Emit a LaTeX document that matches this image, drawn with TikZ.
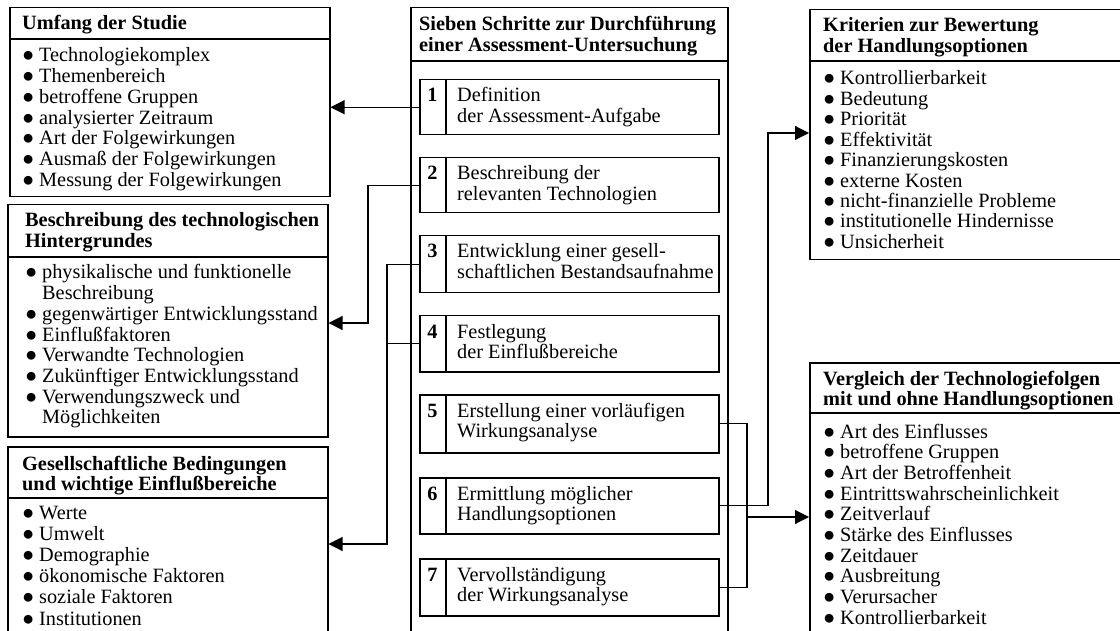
\documentclass[tikz,border=0pt]{standalone}
\usepackage{fontspec}
\setmainfont{Liberation Serif}
\usetikzlibrary{arrows.meta}

% bullet with a fixed hanging indent, and the matching indent for wrapped lines
\newcommand\bl{\makebox[17pt][l]{●}}
\newcommand\ind{\hspace*{17pt}}
% a block of lines whose baseline is the first line's baseline
\newcommand\lines[1]{\begin{tabular}[t]{@{}l@{}}#1\end{tabular}}
\newcommand\fsz{\fontsize{20.3pt}{20.7pt}\selectfont}

\tikzset{
  frame/.style={draw, line width=1.5pt, inner sep=0pt, anchor=north west},
  stepbox/.style={frame, minimum width=299pt},
  txt/.style={inner sep=0pt, anchor=base west, font=\fsz},
  head/.style={inner sep=0pt, anchor=base west, font=\fsz\bfseries},
  num/.style={inner sep=0pt, anchor=base, font=\fsz\bfseries},
  rule/.style={line width=1.5pt},
  link/.style={line width=1.1pt},
  arr/.style={line width=1.1pt, -{Triangle[length=14pt, width=14pt]}}
}

\begin{document}
\begin{tikzpicture}[x=1pt, y=-1pt]
\useasboundingbox (0,0) rectangle (1120,631);
\clip (0,0) rectangle (1120,631);

% ---------- left column ----------
\node[frame, minimum width=320pt, minimum height=189pt] (umf) at (9,7) {};
\draw[rule] ([yshift=-32pt]umf.north west) -- ([yshift=-32pt]umf.north east);
\node[head] (umfT) at (22,30) {Umfang der Studie};
\node[txt] (umfL) at (22,62) {\lines{%
  \bl Technologiekomplex\\
  \bl Themenbereich\\
  \bl betroffene Gruppen\\
  \bl analysierter Zeitraum\\
  \bl Art der Folgewirkungen\\
  \bl Ausmaß der Folgewirkungen\\
  \bl Messung der Folgewirkungen}};

\node[frame, minimum width=320pt, minimum height=232pt] (hint) at (7,204) {};
\draw[rule] ([yshift=-53pt]hint.north west) -- ([yshift=-53pt]hint.north east);
\node[head] (hintT) at (25,227) {\lines{Beschreibung des technologischen\\Hintergrundes}};
\node[txt] (hintL) at (25,279) {\lines{%
  \bl physikalische und funktionelle\\
  \ind Beschreibung\\
  \bl gegenwärtiger Entwicklungsstand\\
  \bl Einflußfaktoren\\
  \bl Verwandte Technologien\\
  \bl Zukünftiger Entwicklungsstand\\
  \bl Verwendungszweck und\\
  \ind Möglichkeiten}};

\node[frame, minimum width=320pt, minimum height=230pt] (ges) at (7,446) {};
\draw[rule] ([yshift=-52pt]ges.north west) -- ([yshift=-52pt]ges.north east);
\node[head] (gesT) at (22,470) {\lines{Gesellschaftliche Bedingungen\\und wichtige Einflußbereiche}};
\node[txt, font=\fontsize{20.3pt}{21.2pt}\selectfont] (gesL) at (22,519) {\lines{%
  \bl Werte\\
  \bl Umwelt\\
  \bl Demographie\\
  \bl ökonomische Faktoren\\
  \bl soziale Faktoren\\
  \bl Institutionen}};

% ---------- middle column: the seven steps ----------
\node[frame, minimum width=317pt, minimum height=680pt] (mid) at (410,7) {};
\draw[rule] ([yshift=-54pt]mid.north west) -- ([yshift=-54pt]mid.north east);
\node[head] (midT) at (419,31) {\lines{Sieben Schritte zur Durchführung\\einer Assessment-Untersuchung}};

\node[stepbox, minimum height=55pt] (s1) at (419,79) {};
\node[num] (n1) at (432.5,102) {1};
\node[txt] (t1) at (457,102) {\lines{Definition\\der Assessment-Aufgabe}};

\node[stepbox, minimum height=55pt] (s2) at (419,157) {};
\node[num] (n2) at (432.5,180) {2};
\node[txt] (t2) at (457,180) {\lines{Beschreibung der\\relevanten Technologien}};

\node[stepbox, minimum height=57pt] (s3) at (419,235) {};
\node[num] (n3) at (432.5,258) {3};
\node[txt] (t3) at (457,258) {\lines{Entwicklung einer gesell-\\schaftlichen Bestandsaufnahme}};

\node[stepbox, minimum height=56pt] (s4) at (419,315) {};
\node[num] (n4) at (432.5,338) {4};
\node[txt] (t4) at (457,338) {\lines{Festlegung\\der Einflußbereiche}};

\node[stepbox, minimum height=58pt] (s5) at (419,394) {};
\node[num] (n5) at (432.5,417) {5};
\node[txt] (t5) at (457,417) {\lines{Erstellung einer vorläufigen\\Wirkungsanalyse}};

\node[stepbox, minimum height=56pt] (s6) at (419,477) {};
\node[num] (n6) at (432.5,500) {6};
\node[txt] (t6) at (457,500) {\lines{Ermittlung möglicher\\Handlungsoptionen}};

\node[stepbox, minimum height=57pt] (s7) at (419,558) {};
\node[num] (n7) at (432.5,581) {7};
\node[txt] (t7) at (457,581) {\lines{Vervollständigung\\der Wirkungsanalyse}};

% number column divider inside each step box
\foreach \s in {s1,s2,s3,s4,s5,s6,s7}
  \draw[rule] ([xshift=27pt]\s.north west) -- ([xshift=27pt]\s.south west);

% ---------- right column ----------
\node[frame, minimum width=350pt, minimum height=250pt] (krit) at (809,9) {};
\draw[rule] ([yshift=-52pt]krit.north west) -- ([yshift=-52pt]krit.north east);
\node[head] (kritT) at (823,32) {\lines{Kriterien zur Bewertung\\der Handlungsoptionen}};
\node[txt, font=\fontsize{20.3pt}{20.4pt}\selectfont] (kritL) at (823,85) {\lines{%
  \bl Kontrollierbarkeit\\
  \bl Bedeutung\\
  \bl Priorität\\
  \bl Effektivität\\
  \bl Finanzierungskosten\\
  \bl externe Kosten\\
  \bl nicht-finanzielle Probleme\\
  \bl institutionelle Hindernisse\\
  \bl Unsicherheit}};

\node[frame, minimum width=350pt, minimum height=320pt] (vgl) at (809,362) {};
\draw[rule] ([yshift=-51pt]vgl.north west) -- ([yshift=-51pt]vgl.north east);
\node[head] (vglT) at (823,385) {\lines{Vergleich der Technologiefolgen\\mit und ohne Handlungsoptionen}};
\node[txt] (vglL) at (823,438) {\lines{%
  \bl Art des Einflusses\\
  \bl betroffene Gruppen\\
  \bl Art der Betroffenheit\\
  \bl Eintrittswahrscheinlichkeit\\
  \bl Zeitverlauf\\
  \bl Stärke des Einflusses\\
  \bl Zeitdauer\\
  \bl Ausbreitung\\
  \bl Verursacher\\
  \bl Kontrollierbarkeit}};

% ---------- connectors ----------
\coordinate (k2) at (368,323);
\coordinate (k3) at (387,544);
\coordinate (k5) at (747,517);
\coordinate (k6) at (768,133);

\draw[arr] (s1.west) -- (umf.east |- s1.west);
\draw[arr] (s2.west) -| (k2) -- (hint.east |- k2);
\draw[arr] (s3.west) -| (k3) -- (ges.east |- k3);
\draw[link] (s4.west) -- (s4.west -| k3);
\draw[link] (s5.east) -| (k5) |- (s7.east);
\draw[arr] (k5) -- (vgl.west |- k5);
\draw[arr] (s6.east) -| (k6) -- (krit.west |- k6);
\end{tikzpicture}
\end{document}
